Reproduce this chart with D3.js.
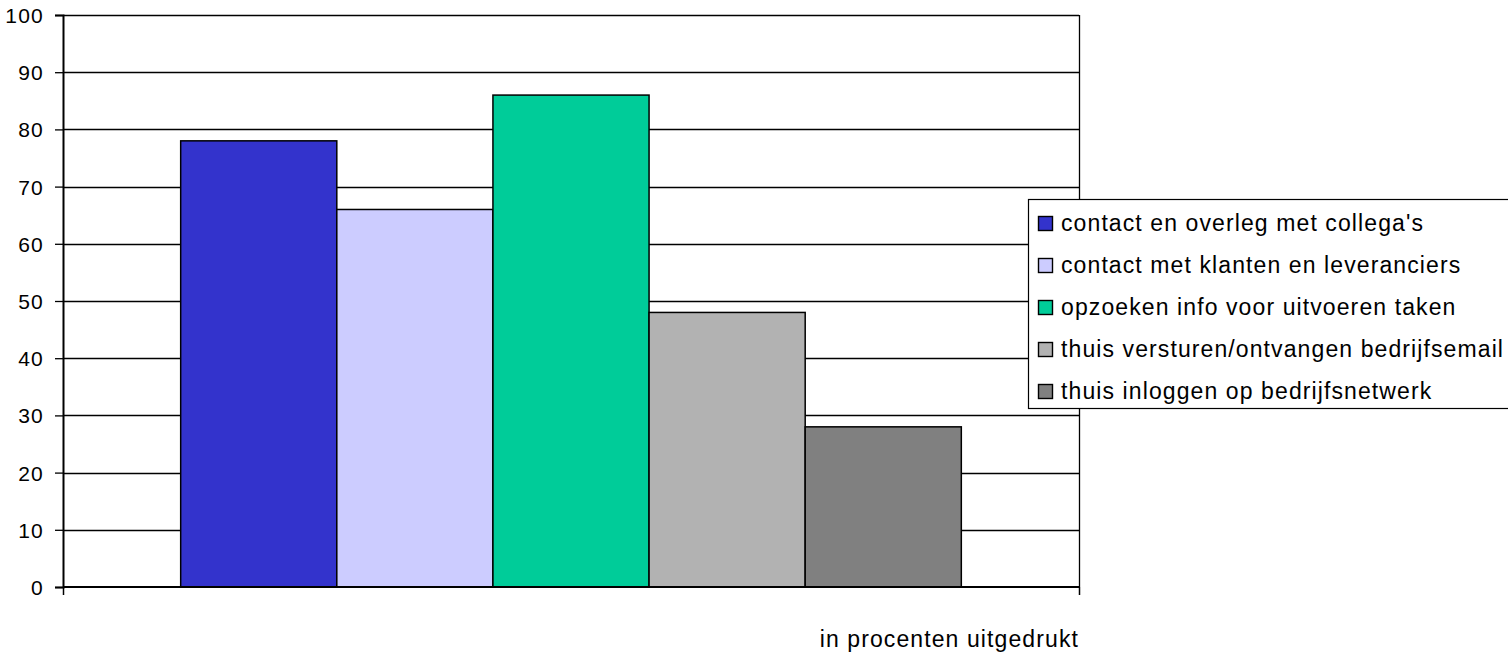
<!DOCTYPE html>
<html><head><meta charset="utf-8">
<script src="https://cdn.jsdelivr.net/npm/d3@7"></script>
<style>body{margin:0;background:#fff;} svg{display:block;font-family:"Liberation Sans",Arial,sans-serif;}</style>
</head><body>
<svg id="c" width="1508" height="654"></svg>
<script>
const categories = ["in procenten uitgedrukt"];
const seriesNames = ["contact en overleg met collega's","contact met klanten en leveranciers","opzoeken info voor uitvoeren taken","thuis versturen/ontvangen bedrijfsemail","thuis inloggen op bedrijfsnetwerk"];
const seriesValues = [78, 66, 86, 48, 28];
const seriesColors = ["#3333CC","#CCCCFF","#00CC99","#B2B2B2","#808080"];
const yTicks = [0,10,20,30,40,50,60,70,80,90,100];

const svg = d3.select("#c");
const L=63, R=1079, T=15, B=587;
const y = d3.scaleLinear().domain([0,100]).range([B,T]);
const x0 = d3.scaleBand().domain(categories).range([L,R]).paddingInner(0.131).paddingOuter(0.131);
const x1 = d3.scaleBand().domain(seriesNames).range([0,x0.bandwidth()]);

// gridlines
svg.append("g").selectAll("line").data(yTicks.filter(d=>d>0)).join("line")
  .attr("x1",L).attr("x2",R).attr("y1",d=>Math.round(y(d))+0.5).attr("y2",d=>Math.round(y(d))+0.5)
  .attr("stroke","#000").attr("stroke-width",1.3);
// right border
svg.append("line").attr("x1",R+0.5).attr("x2",R+0.5).attr("y1",T).attr("y2",B).attr("stroke","#000").attr("stroke-width",1.3);

// bars
const g = svg.append("g").attr("transform",`translate(${x0(categories[0])},0)`);
g.selectAll("rect").data(seriesNames).join("rect")
  .attr("x",d=>x1(d)).attr("width",x1.bandwidth())
  .attr("y",(d,i)=>y(seriesValues[i])).attr("height",(d,i)=>B-y(seriesValues[i]))
  .attr("fill",(d,i)=>seriesColors[i]).attr("stroke","#000").attr("stroke-width",1.5);

// y axis
const ya = svg.append("g").attr("transform",`translate(${L},0)`)
  .call(d3.axisLeft(y).tickValues(yTicks).tickSize(8).tickPadding(11));
ya.select(".domain").attr("stroke-width",2);
ya.selectAll(".tick line").attr("stroke-width",1.3);
ya.selectAll("text").attr("font-size",21).attr("fill","#000").attr("letter-spacing","1.2px")
  .attr("font-family","Liberation Sans, Arial, sans-serif").attr("dy","0.36em");

// x axis
const xa = svg.append("g").attr("transform",`translate(0,${B})`)
  .call(d3.axisBottom(d3.scaleLinear().domain([0,1]).range([L,R])).tickValues([0,1]).tickSize(8).tickFormat(""));
xa.select(".domain").attr("stroke-width",2).attr("d",`M${L},0H${R}`);
xa.selectAll(".tick line").attr("stroke-width",1.5);

// category label
svg.append("text").attr("x",R).attr("y",647).attr("text-anchor","end")
  .attr("font-size",23).attr("letter-spacing","1.1px").text(categories[0]);

// legend
const lg = svg.append("g");
lg.append("rect").attr("x",1028.5).attr("y",199.5).attr("width",500).attr("height",209)
  .attr("fill","#fff").attr("stroke","#000").attr("stroke-width",1.2);
const items = lg.selectAll("g.it").data(seriesNames).join("g").attr("class","it")
  .attr("transform",(d,i)=>`translate(1038,${223.5+i*42})`);
items.append("rect").attr("x",0.5).attr("y",-7).attr("width",14).attr("height",14)
  .attr("fill",(d,i)=>seriesColors[i]).attr("stroke","#000").attr("stroke-width",1.4);
items.append("text").attr("x",23).attr("y",7.8).attr("font-size",23).attr("letter-spacing","1.1px").text(d=>d);
</script>
</body></html>
